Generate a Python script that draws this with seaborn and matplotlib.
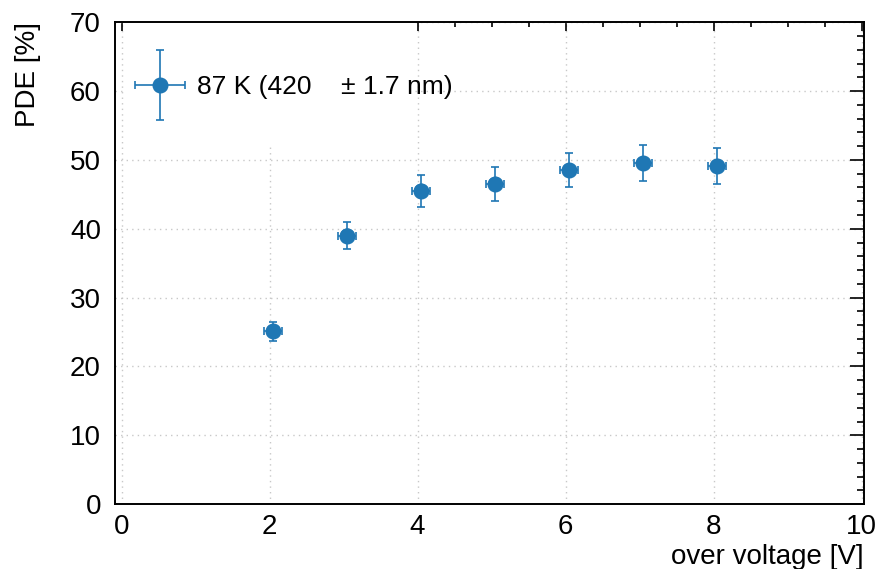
import numpy as np
import pandas as pd
import matplotlib
matplotlib.use("Agg")
import matplotlib.pyplot as plt
from matplotlib.ticker import MultipleLocator
from matplotlib.legend_handler import HandlerErrorbar
from matplotlib.patches import Rectangle
import seaborn as sns

# PDE measurement at 87 K, 420 nm
over_voltage = [2.05, 3.05, 4.05, 5.05, 6.05, 7.05, 8.05]
over_voltage_err = [0.12, 0.12, 0.12, 0.12, 0.12, 0.12, 0.12]
pde = [25.1, 39.0, 45.5, 46.5, 48.5, 49.5, 49.1]
pde_err = [1.35, 2.0, 2.35, 2.45, 2.5, 2.6, 2.6]
series_label = "87 K (420    ± 1.7 nm)"

df = pd.DataFrame({"ov": over_voltage, "ov_err": over_voltage_err,
                   "pde": pde, "pde_err": pde_err})

sns.set_theme(style="white")
plt.rcParams["font.family"] = ["Liberation Sans", "DejaVu Sans"]
plt.rcParams["text.color"] = "black"
plt.rcParams["axes.labelcolor"] = "black"

FS = 20
LEG_FS = 19
color = "#1f77b4"
fig = plt.figure(figsize=(8.77, 5.69), dpi=100)
ax = fig.add_axes([0.131, 0.114, 0.854, 0.847])

eb = ax.errorbar(df["ov"], df["pde"], xerr=df["ov_err"], yerr=df["pde_err"],
                 fmt="o", color=color, ms=10.5, elinewidth=1.2, capsize=3,
                 capthick=1.2, label=series_label, zorder=3)
sns.scatterplot(data=df, x="ov", y="pde", ax=ax, color=color, s=110,
                edgecolor="none", legend=False, zorder=4)

ax.set_xlim(-0.09, 10.03)
ax.set_ylim(0, 70)
ax.xaxis.set_major_locator(MultipleLocator(2))
ax.xaxis.set_minor_locator(MultipleLocator(0.5))
ax.yaxis.set_major_locator(MultipleLocator(10))
ax.yaxis.set_minor_locator(MultipleLocator(2))

ax.tick_params(axis="both", which="both", direction="in", top=True,
               right=True, colors="black", labelsize=FS, width=1.2)
ax.tick_params(axis="x", which="major", length=6.5, pad=7)
ax.tick_params(axis="x", which="minor", length=3.6)
ax.tick_params(axis="y", which="major", length=10, pad=10)
ax.tick_params(axis="y", which="minor", length=5)
for s in ax.spines.values():
    s.set_color("black")
    s.set_linewidth(1.4)

ax.set_axisbelow(True)
ax.grid(True, which="major", color="#c8c8c8", linestyle=(0, (1, 3)),
        linewidth=1.0)

# white backdrop behind the legend entry
ax.add_patch(Rectangle((0.012, 0.741), 0.387, 0.259, transform=ax.transAxes,
                       facecolor="white", edgecolor="none", zorder=1))

ax.set_xlabel("over voltage [V]", fontsize=FS, loc="right", labelpad=3)
ax.set_ylabel("PDE [%]", fontsize=FS, loc="top")
ax.yaxis.set_label_coords(-0.098, 1.0)

leg = ax.legend(loc="center left", bbox_to_anchor=(0.0267, 0.865),
                fontsize=LEG_FS, frameon=False, borderpad=0, borderaxespad=0,
                handlelength=1.9, handletextpad=0.45,
                handler_map={type(eb): HandlerErrorbar(xerr_size=0.95,
                                                       yerr_size=1.33)})
leg.set_zorder(5)

fig.savefig("out.png", dpi=100)
